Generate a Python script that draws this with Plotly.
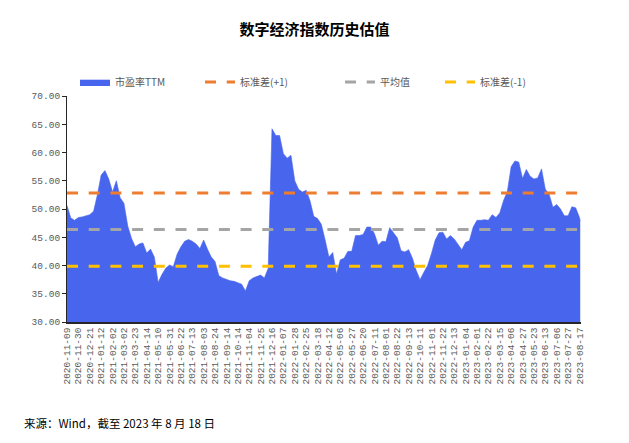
import plotly.graph_objects as go

# ---- data ----
sample_step = 5  # one value every 5 trading days
pe_ttm = [
    50.6, 48.4, 48.0, 48.5, 48.6, 48.8, 49.0, 49.6, 52.5, 56.0,
    56.8, 55.3, 53.0, 55.0, 52.0, 51.0, 47.0, 44.8, 43.3, 43.8,
    44.0, 42.2, 42.9, 41.5, 37.0, 38.4, 39.5, 40.1, 39.8, 42.0,
    43.3, 44.3, 44.6, 44.3, 43.8, 43.0, 44.5, 42.9, 41.5, 40.7,
    38.2, 37.8, 37.5, 37.3, 37.2, 36.9, 36.7, 35.5, 37.3, 37.8,
    38.0, 38.3, 37.8, 39.5, 64.2, 63.0, 63.0, 59.8, 59.0, 59.5,
    55.0, 53.5, 53.0, 53.3, 51.5, 48.7, 48.3, 47.3, 44.5, 41.5,
    42.3, 38.5, 41.0, 41.3, 42.5, 42.5, 45.3, 45.3, 45.5, 46.8,
    46.8, 45.6, 43.6, 44.3, 44.2, 46.7, 45.8, 44.9, 42.6, 42.4,
    42.8, 41.3, 39.1, 37.5, 38.8, 40.0, 42.1, 44.5, 45.8, 45.9,
    44.7, 45.3, 44.7, 43.7, 42.8, 44.1, 44.4, 46.8, 48.0, 48.0,
    48.1, 48.0, 49.0, 48.5, 49.3, 51.5, 53.1, 57.5, 58.5, 58.3,
    55.4, 57.0, 55.8, 55.3, 55.5, 57.1, 53.5, 52.6, 50.3, 50.8,
    50.0, 48.8, 48.8, 50.4, 50.2, 48.5, 47.9,
]
mean_pe = 46.35
upper_pe = 52.82   # 标准差(+1)
lower_pe = 39.88   # 标准差(-1)

tick_labels = [
    "2020-11-09", "2020-11-30", "2020-12-21", "2021-01-12", "2021-02-02",
    "2021-03-02", "2021-03-23", "2021-04-14", "2021-05-10", "2021-05-31",
    "2021-06-22", "2021-07-13", "2021-08-03", "2021-08-24", "2021-09-14",
    "2021-10-14", "2021-11-04", "2021-11-25", "2021-12-16", "2022-01-07",
    "2022-01-28", "2022-02-25", "2022-03-18", "2022-04-12", "2022-05-06",
    "2022-05-27", "2022-06-20", "2022-07-11", "2022-08-01", "2022-08-22",
    "2022-09-13", "2022-10-11", "2022-11-01", "2022-11-22", "2022-12-13",
    "2023-01-04", "2023-02-01", "2023-02-22", "2023-03-15", "2023-04-06",
    "2023-04-27", "2023-05-23", "2023-06-13", "2023-07-06", "2023-07-27",
    "2023-08-17",
]
tick_step = 15  # trading days between labels

# trading-day index of each sample (last sample is the final day, 2023-08-18)
n_days = (len(tick_labels) - 1) * tick_step + 2
x_idx = list(range(0, n_days - 1, sample_step))[: len(pe_ttm) - 1] + [n_days - 1]
x_line = [0, n_days - 1]

blue = "#4865EE"
orange = "#ED7D31"
gray = "#A5A5A5"
yellow = "#FFC000"
txt_gray = "#595959"
cjk = "Noto Sans CJK SC, sans-serif"
mono = "Liberation Mono, DejaVu Sans Mono, monospace"
dash = "11px,10.7px"

fig = go.Figure()
fig.add_trace(go.Scatter(
    x=x_idx, y=pe_ttm, name="市盈率TTM", mode="lines",
    line=dict(color=blue, width=0.6), fill="tozeroy", fillcolor=blue,
    legend="legend",
))
fig.add_trace(go.Scatter(
    x=x_line, y=[upper_pe] * 2, name="标准差(+1)", mode="lines",
    line=dict(color=orange, width=3, dash=dash), legend="legend2",
))
fig.add_trace(go.Scatter(
    x=x_line, y=[mean_pe] * 2, name="平均值", mode="lines",
    line=dict(color=gray, width=3, dash=dash), legend="legend3",
))
fig.add_trace(go.Scatter(
    x=x_line, y=[lower_pe] * 2, name="标准差(-1)", mode="lines",
    line=dict(color=yellow, width=3, dash=dash), legend="legend4",
))

def leg(xpos):
    return dict(orientation="h", x=xpos, xanchor="left", y=1.062, yanchor="middle",
                font=dict(family=cjk, size=10, color=txt_gray),
                bgcolor="rgba(0,0,0,0)", itemclick=False, itemdoubleclick=False)

fig.update_layout(
    width=629, height=443,
    margin=dict(l=67, r=48, t=96, b=121),
    paper_bgcolor="white", plot_bgcolor="white",
    title=dict(text="<b>数字经济指数历史估值</b>", x=0.5, xanchor="center",
               y=1 - 30 / 443, yanchor="middle",
               font=dict(family=cjk, size=15, color="#000000")),
    showlegend=True,
    legend=leg(8 / 514),
    legend2=leg(133 / 514),
    legend3=leg(273 / 514),
    legend4=leg(373 / 514),
    xaxis=dict(
        range=[0, n_days], showgrid=False, zeroline=False,
        showline=True, linecolor="#262626", linewidth=1.5,
        tickmode="array",
        tickvals=[i * tick_step for i in range(len(tick_labels))],
        ticktext=tick_labels, tickangle=-90,
        tickfont=dict(family=mono, size=9.5, color=txt_gray),
        ticks="", fixedrange=True,
    ),
    yaxis=dict(
        range=[30, 70], dtick=5, tick0=30, tickformat=".2f",
        showgrid=False, zeroline=False,
        showline=True, linecolor="#262626", linewidth=1,
        ticks="outside", ticklen=4, tickcolor="#262626",
        tickfont=dict(family=mono, size=9.5, color=txt_gray),
        fixedrange=True,
    ),
    annotations=[dict(
        text="来源：Wind，截至 2023 年 8 月 18 日", xref="paper", yref="paper",
        x=-67 / 514 + 22 / 514, y=-(423 - 322) / 226, xanchor="left", yanchor="middle",
        showarrow=False, font=dict(family=cjk, size=11.5, color="#000000"),
    )],
)

fig.write_html("out.html")
